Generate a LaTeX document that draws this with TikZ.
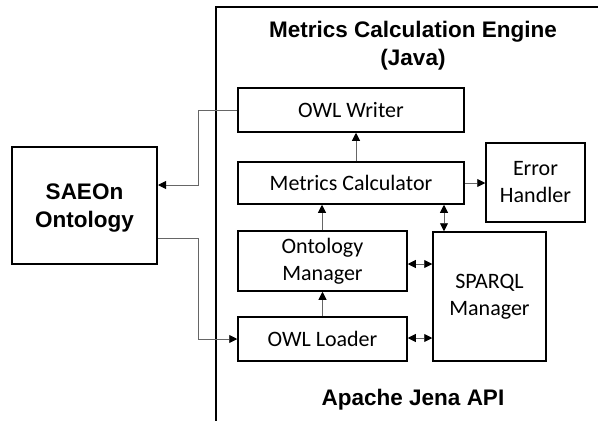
\documentclass[tikz,border=0pt]{standalone}
\usepackage{fontspec}
\setmainfont{Carlito}
\newfontfamily\headfont{Liberation Sans}
\usetikzlibrary{arrows.meta}
\begin{document}
\begin{tikzpicture}[x=1pt,y=-1pt,
  comp/.style={draw=black, line width=1.5pt, align=center, inner sep=0pt,
    font=\fontsize{22}{27}\selectfont},
  head/.style={align=center, font=\headfont\bfseries\fontsize{22.5}{28}\selectfont},
  tip/.tip={Triangle[length=8pt,width=8pt,color=black]},
  link/.style={draw=gray!80!black, line width=0.9pt, -tip},
  duplex/.style={draw=gray!80!black, line width=0.9pt, tip-tip}]
\useasboundingbox (0,0) rectangle (598,421);
\fill[white] (0,0) rectangle (598,421);

% engine frame (runs past the right and bottom edges)
\draw[line width=2.6pt] (216,430) -- (216,7) -- (610,7);
\node[head] (title) at (413,46) {Metrics Calculation Engine\\(Java)};
\node[head] (jena) at (413,400) {Apache Jena API};

% external ontology: frame plus its caption
\node[draw=black, line width=2pt, minimum width=145pt, minimum height=117pt]
  (saeon) at (84.5,205.5) {};
\node[head] (saeontext) at ([yshift=-3pt]saeon.center) {SAEOn\\Ontology};

% components
\node[comp, minimum width=226pt, minimum height=44pt] (writer) at (351,110) {OWL Writer};
\node[comp, minimum width=226pt, minimum height=42pt] (calc) at (351,183) {Metrics Calculator};
\node[comp, minimum width=99pt, minimum height=79pt] (err) at (535.5,182.5) {Error\\Handler};
\node[comp, minimum width=169pt, minimum height=60pt] (ontman) at (322.5,261) {Ontology\\Manager};
\node[comp, minimum width=169pt, minimum height=44pt] (loader) at (322.5,339) {OWL Loader};
\node[comp, minimum width=113pt, minimum height=129pt] (sparql) at (489.5,296.5) {SPARQL\\Manager};

% connections to the ontology
\coordinate (wbend) at (198,110);
\coordinate (lbend) at (198,238);
\draw[link] (writer.west) -- (wbend) |- (saeon.east |- 0,185);
\draw[link] (saeon.east |- lbend) -- (lbend) |- (loader.west);

% internal flow
\draw[link] (calc.north -| 356,0) -- (writer.south -| 356,0);
\draw[link] (calc.east) -- (err.west |- calc.east);
\draw[link] (ontman.north -| 322,0) -- (calc.south -| 322,0);
\draw[link] (loader.north) -- (ontman.south);
\draw[duplex] (calc.south -| 444,0) -- (sparql.north -| 444,0);
\draw[duplex] (ontman.east |- 0,264) -- (sparql.west |- 0,264);
\draw[duplex] (loader.east |- 0,338) -- (sparql.west |- 0,338);
\end{tikzpicture}
\end{document}
